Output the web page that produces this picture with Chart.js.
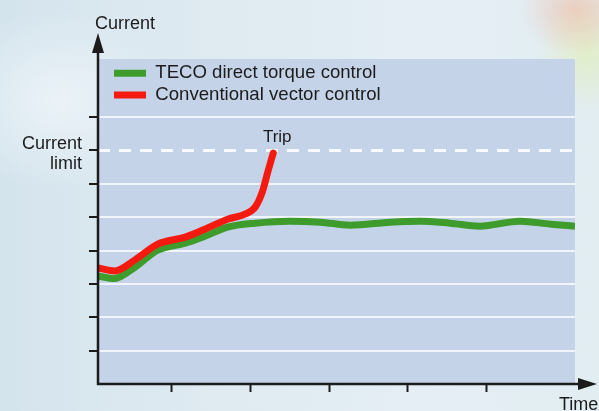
<!DOCTYPE html>
<html>
<head>
<meta charset="utf-8">
<script src="https://cdn.jsdelivr.net/npm/chart.js@4.4.1/dist/chart.umd.min.js"></script>
<style>
  html, body { margin: 0; padding: 0; }
  body {
    width: 599px;
    height: 411px;
    overflow: hidden;
    background:
      radial-gradient(ellipse 55px 45px at 575px 10px, rgba(240, 185, 160, 0.6), rgba(240, 185, 160, 0)),
      radial-gradient(ellipse 50px 60px at 588px 52px, rgba(225, 238, 190, 0.8), rgba(225, 238, 190, 0)),
      radial-gradient(ellipse 120px 90px at 60px 100px, rgba(240, 246, 250, 0.8), rgba(240, 246, 250, 0)),
      linear-gradient(to right, #d4e4ed 0%, #dfeaf1 35%, #e4eef4 70%, #e2edf2 100%);
  }
  .chart-wrap { position: relative; width: 599px; height: 411px; }
</style>
</head>
<body>
<div class="chart-wrap"><canvas id="drive-chart"></canvas></div>
<script>
// axis layout (arbitrary units)
const xMin = 0.06;
const xMax = 6.13;
const yMin = 0;
const yMax = 9.74;
const xTicks = [1, 2, 3, 4, 5];
const yTicks = [1, 2, 3, 4, 5, 6, 7, 8];
const currentLimit = 7;

const seriesLabels = ["TECO direct torque control", "Conventional vector control"];

const tecoTime = [0.06, 0.27, 0.53, 0.82, 1.17, 1.42, 1.71, 2.06, 2.5, 2.89, 3.27, 3.78, 4.16, 4.54, 4.92, 5.43, 5.82, 6.13];
const tecoCurrent = [3.24, 3.16, 3.5, 4.01, 4.22, 4.43, 4.7, 4.82, 4.88, 4.85, 4.76, 4.85, 4.88, 4.82, 4.73, 4.88, 4.79, 4.73];

const vectorTime = [0.06, 0.27, 0.53, 0.82, 1.17, 1.42, 1.71, 1.93, 2.06, 2.15, 2.22, 2.29];
const vectorCurrent = [3.48, 3.39, 3.72, 4.19, 4.4, 4.64, 4.94, 5.09, 5.3, 5.75, 6.35, 6.92];

const FONT = "'Liberation Sans', Arial, Helvetica, sans-serif";
const INK = "#1c1c1c";

const toPoints = (xs, ys) => xs.map((x, i) => ({ x, y: ys[i] }));

const plotBackground = {
  id: "plotBackground",
  beforeDraw(chart) {
    const { ctx, chartArea: a } = chart;
    ctx.save();
    ctx.fillStyle = "#c5d3e8";
    ctx.fillRect(a.left, a.top, a.right - a.left, a.bottom - a.top);
    ctx.restore();
  },
};

// legend sits inside the plot, a bit in from the left edge
const legendPlacer = {
  id: "legendPlacer",
  afterLayout(chart) {
    const lg = chart.legend;
    const a = chart.chartArea;
    if (!lg) return;
    lg.left = a.left + 13;
    lg.top = a.top + 2;
    lg.right = lg.left + lg.width;
    lg.bottom = lg.top + lg.height;
  },
};

const axesAndNotes = {
  id: "axesAndNotes",
  afterDraw(chart) {
    const { ctx, chartArea: a } = chart;
    ctx.save();
    ctx.strokeStyle = INK;
    ctx.fillStyle = INK;
    ctx.lineWidth = 2.5;

    // y axis with arrow
    ctx.beginPath();
    ctx.moveTo(a.left, a.bottom + 1);
    ctx.lineTo(a.left, 45);
    ctx.stroke();
    ctx.beginPath();
    ctx.moveTo(a.left, 33);
    ctx.lineTo(a.left - 6, 53);
    ctx.lineTo(a.left + 6, 53);
    ctx.closePath();
    ctx.fill();

    // x axis with arrow
    ctx.beginPath();
    ctx.moveTo(a.left - 1, a.bottom);
    ctx.lineTo(585, a.bottom);
    ctx.stroke();
    ctx.beginPath();
    ctx.moveTo(597, a.bottom);
    ctx.lineTo(578, a.bottom - 6);
    ctx.lineTo(578, a.bottom + 6);
    ctx.closePath();
    ctx.fill();

    ctx.font = `18px ${FONT}`;
    ctx.textAlign = "left";
    ctx.textBaseline = "middle";
    ctx.fillText("Current", a.left - 3, 24);
    ctx.textBaseline = "alphabetic";
    ctx.fillText("Time", 559, 410);

    // "Trip" above the end of the vector-control curve
    const pts = chart.getDatasetMeta(1).data;
    const last = pts[pts.length - 1];
    if (last) {
      ctx.font = `17px ${FONT}`;
      ctx.textAlign = "center";
      ctx.textBaseline = "middle";
      ctx.fillText("Trip", last.x + 4, last.y - 16);
    }
    ctx.restore();
  },
};

const ctx = document.getElementById("drive-chart").getContext("2d");

new Chart(ctx, {
  type: "line",
  data: {
    datasets: [
      {
        label: seriesLabels[0],
        data: toPoints(tecoTime, tecoCurrent),
        borderColor: "#3d9c2c",
        backgroundColor: "#3d9c2c",
        borderWidth: 7,
        pointRadius: 0,
        tension: 0.4,
        cubicInterpolationMode: "monotone",
        order: 2,
      },
      {
        label: seriesLabels[1],
        data: toPoints(vectorTime, vectorCurrent),
        borderColor: "#f51a10",
        backgroundColor: "#f51a10",
        borderWidth: 7,
        pointRadius: 0,
        tension: 0.4,
        cubicInterpolationMode: "monotone",
        borderCapStyle: "round",
        order: 1,
      },
      {
        label: "limit",
        data: toPoints([xMin, xMax], [currentLimit, currentLimit]),
        borderColor: "rgba(250, 252, 255, 0.95)",
        borderWidth: 3,
        borderDash: [12, 9],
        pointRadius: 0,
        order: 3,
      },
    ],
  },
  options: {
    responsive: true,
    maintainAspectRatio: false,
    animation: false,
    devicePixelRatio: 1,
    layout: { padding: { left: 0, top: 59, right: 24, bottom: 0 } },
    plugins: {
      tooltip: { enabled: false },
      legend: {
        display: true,
        position: "chartArea",
        align: "start",
        labels: {
          boxWidth: 32,
          boxHeight: 7,
          padding: 3,
          color: INK,
          font: { family: FONT, size: 18.6 },
          filter: (item) => item.datasetIndex < 2,
          sort: (a, b) => a.datasetIndex - b.datasetIndex,
          generateLabels: (chart) =>
            Chart.defaults.plugins.legend.labels.generateLabels(chart).map((l) => ({
              ...l,
              fillStyle: l.strokeStyle,
              lineWidth: 0,
              lineDash: [],
            })),
        },
      },
    },
    scales: {
      x: {
        type: "linear",
        min: xMin,
        max: xMax,
        afterBuildTicks: (scale) => {
          scale.ticks = xTicks.map((value) => ({ value }));
        },
        afterFit: (scale) => {
          scale.height = 27;
        },
        border: { display: false },
        grid: {
          drawOnChartArea: false,
          tickLength: 8,
          tickWidth: 2,
          tickColor: INK,
        },
        ticks: { callback: () => "" },
      },
      y: {
        min: yMin,
        max: yMax,
        afterBuildTicks: (scale) => {
          scale.ticks = yTicks.map((value) => ({ value }));
        },
        afterFit: (scale) => {
          scale.width = 98;
        },
        border: { display: false },
        grid: {
          color: (c) =>
            c.tick && c.tick.value !== currentLimit ? "rgba(243, 247, 251, 0.95)" : "rgba(0,0,0,0)",
          lineWidth: 2,
          tickLength: 9,
          tickWidth: 2,
          tickColor: INK,
        },
        ticks: {
          padding: 7,
          labelOffset: 4,
          color: INK,
          font: { family: FONT, size: 18, lineHeight: 1.1 },
          callback: (v) => (v === currentLimit ? ["Current", "limit"] : ""),
        },
      },
    },
  },
  plugins: [plotBackground, legendPlacer, axesAndNotes],
});
</script>
</body>
</html>
